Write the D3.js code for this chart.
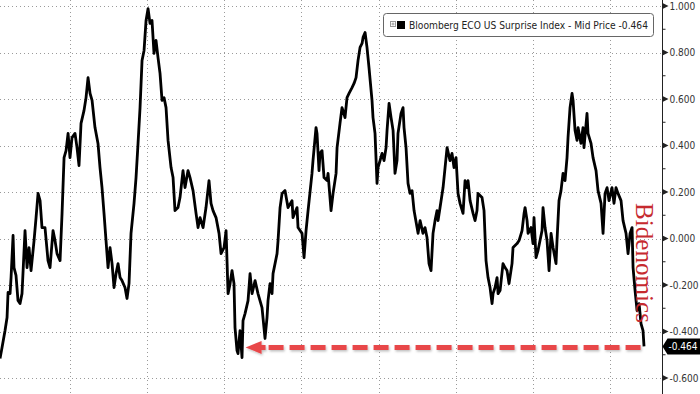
<!DOCTYPE html>
<html><head><meta charset="utf-8">
<script src="https://cdn.jsdelivr.net/npm/d3@7"></script>
<style>html,body{margin:0;padding:0;background:#fff;}svg{display:block;}</style>
</head><body>
<svg id="c" width="700" height="394"></svg>
<script>
const years = [
2015.093,2015.119,2015.158,2015.184,2015.197,2015.223,2015.236,2015.262,2015.274,2015.300,
2015.326,2015.352,2015.378,2015.417,2015.443,2015.469,2015.495,2015.534,2015.560,2015.586,
2015.612,2015.637,2015.676,2015.715,2015.741,2015.780,2015.806,2015.832,2015.871,2015.897,
2015.923,2015.949,2015.975,2016.000,2016.026,2016.065,2016.091,2016.117,2016.143,2016.182,
2016.208,2016.234,2016.260,2016.286,2016.324,2016.363,2016.389,2016.415,2016.441,2016.467,
2016.493,2016.519,2016.545,2016.571,2016.597,2016.623,2016.649,2016.674,2016.713,2016.739,
2016.765,2016.791,2016.830,2016.856,2016.882,2016.908,2016.934,2016.960,2016.986,2017.012,
2017.037,2017.063,2017.089,2017.115,2017.141,2017.167,2017.193,2017.219,2017.245,2017.271,
2017.310,2017.336,2017.361,2017.400,2017.426,2017.465,2017.491,2017.530,2017.556,2017.595,
2017.634,2017.660,2017.686,2017.725,2017.763,2017.802,2017.828,2017.854,2017.893,2017.932,
2017.958,2017.997,2018.023,2018.049,2018.075,2018.100,2018.126,2018.139,2018.165,2018.178,
2018.204,2018.230,2018.243,2018.269,2018.308,2018.334,2018.360,2018.399,2018.437,2018.489,
2018.528,2018.554,2018.567,2018.593,2018.619,2018.632,2018.684,2018.697,2018.723,2018.749,
2018.787,2018.826,2018.878,2018.891,2018.943,2018.956,2019.008,2019.034,2019.060,2019.086,
2019.137,2019.150,2019.189,2019.202,2019.228,2019.241,2019.267,2019.293,2019.332,2019.345,
2019.384,2019.410,2019.449,2019.462,2019.500,2019.526,2019.539,2019.565,2019.591,2019.617,
2019.656,2019.682,2019.708,2019.734,2019.760,2019.786,2019.799,2019.825,2019.850,2019.876,
2019.915,2019.928,2019.954,2019.980,2019.993,2020.019,2020.045,2020.071,2020.097,2020.110,
2020.136,2020.162,2020.188,2020.213,2020.239,2020.252,2020.291,2020.317,2020.330,2020.356,
2020.382,2020.408,2020.434,2020.460,2020.499,2020.512,2020.538,2020.576,2020.602,2020.628,
2020.654,2020.680,2020.706,2020.732,2020.758,2020.771,2020.797,2020.836,2020.862,2020.888,
2020.926,2020.952,2020.978,2021.004,2021.030,2021.056,2021.095,2021.121,2021.147,2021.160,
2021.186,2021.225,2021.251,2021.276,2021.289,2021.341,2021.367,2021.393,2021.419,2021.445,
2021.471,2021.484,2021.510,2021.536,2021.549,2021.575,2021.613,2021.639,2021.665,2021.691,
2021.730,2021.743,2021.795,2021.821,2021.860,2021.886,2021.899,2021.925,2021.938,2021.976,
2022.002,2022.015,2022.041,2022.067,2022.119,2022.132,2022.158,2022.184,2022.210,2022.236,
2022.262,2022.300,2022.313,2022.339,2022.365,2022.391,2022.417,2022.443,2022.456,2022.482,
2022.508,2022.521,2022.547,2022.573,2022.586,2022.624,2022.650,2022.663,2022.702,2022.715,
2022.754,2022.780,2022.819,2022.845,2022.884,2022.910,2022.936,2022.962,2022.987,2023.026,
2023.052,2023.078,2023.104,2023.143,2023.169,2023.208,2023.234,2023.260,2023.286,2023.299,
2023.325,2023.351,2023.377,2023.402,2023.428,2023.441];

const values = [
-0.516,-0.469,-0.396,-0.340,-0.232,-0.237,-0.168,0.013,-0.125,-0.159,
-0.267,-0.280,-0.237,0.034,-0.125,-0.039,-0.138,-0.009,0.090,0.194,
0.163,0.047,0.047,-0.095,-0.125,0.034,-0.009,-0.065,-0.095,0.108,
0.348,0.378,0.452,0.348,0.434,0.452,0.391,0.314,0.495,0.551,
0.606,0.692,0.624,0.594,0.477,0.409,0.305,0.219,0.108,-0.009,
-0.125,-0.039,-0.108,-0.211,-0.151,-0.108,-0.168,-0.181,-0.211,-0.258,
-0.194,0.022,0.151,0.262,0.409,0.563,0.766,0.809,0.938,0.989,
0.925,0.938,0.796,0.852,0.778,0.710,0.594,0.606,0.563,0.422,
0.305,0.262,0.120,0.133,0.176,0.292,0.219,0.292,0.262,0.206,
0.108,0.047,0.090,0.047,0.133,0.249,0.151,0.120,0.090,0.022,
-0.065,-0.039,0.034,-0.237,-0.194,-0.138,-0.194,-0.383,-0.482,-0.495,
-0.396,-0.512,-0.353,-0.323,-0.267,-0.151,-0.237,-0.181,-0.237,-0.297,
-0.430,-0.340,-0.267,-0.194,-0.237,-0.151,-0.065,-0.009,0.133,0.194,
0.206,0.133,0.163,0.090,0.133,0.047,0.022,-0.082,0.034,0.120,
0.280,0.335,0.477,0.452,0.292,0.366,0.378,0.262,0.249,0.280,
0.120,0.194,0.280,0.391,0.495,0.563,0.551,0.520,0.606,0.624,
0.649,0.667,0.692,0.766,0.822,0.839,0.865,0.886,0.822,0.735,
0.594,0.520,0.452,0.237,0.305,0.335,0.366,0.335,0.391,0.465,
0.581,0.520,0.465,0.280,0.335,0.452,0.538,0.563,0.477,0.391,
0.237,0.194,0.206,0.120,0.047,0.022,0.077,0.022,0.047,0.004,
-0.108,-0.138,0.022,0.077,0.120,0.077,0.133,0.219,0.305,0.391,
0.335,0.366,0.305,0.348,0.194,0.151,0.108,0.249,0.219,0.249,
0.163,0.108,0.077,0.120,0.194,0.176,0.120,-0.095,-0.168,-0.211,
-0.280,-0.237,-0.211,-0.168,-0.237,-0.224,-0.108,-0.125,-0.138,-0.194,
-0.108,-0.039,-0.022,-0.009,0.034,0.108,0.133,0.077,0.022,0.047,
-0.022,0.090,-0.082,-0.052,0.034,0.133,0.047,-0.009,-0.138,0.022,
-0.039,-0.108,-0.009,0.163,0.206,0.280,0.249,0.348,0.434,0.563,
0.624,0.594,0.465,0.422,0.477,0.409,0.477,0.391,0.538,0.452,
0.409,0.348,0.292,0.206,0.151,0.022,0.194,0.219,0.163,0.219,
0.151,0.219,0.194,0.163,0.077,0.022,-0.065,0.022,0.047,-0.125,
-0.224,-0.310,-0.280,-0.366,-0.396,-0.464];

const yTicks = [-0.6,-0.4,-0.2,0,0.2,0.4,0.6,0.8,1.0];
const yMinor = [-0.5,-0.3,-0.1,0.1,0.3,0.5,0.7,0.9];
const gridYears = [2016,2017,2018,2019,2020,2021,2022,2023];
const seriesName = "Bloomberg ECO US Surprise Index - Mid Price";
const lastValue = -0.464;
const annotation = "Bidenomics";
const arrowFrom = 2023.43, arrowTo = 2018.25;

const W = 700, H = 394, axisX = 662.5;
const svg = d3.select("#c");
const x = d3.scaleLinear().domain([2016, 2023]).range([70, 610]);
const y = d3.scaleLinear().domain([-0.6, 1.0]).range([378, 6]);
const fmt = v => d3.format(".3f")(v).replace("\u2212", "-");
const uiFont = "DejaVu Sans Condensed, DejaVu Sans, sans-serif";

const defs = svg.append("defs");
const f = defs.append("filter").attr("id","sh").attr("x","-10%").attr("y","-50%").attr("width","120%").attr("height","200%");
f.append("feDropShadow").attr("dx",1).attr("dy",1.5).attr("stdDeviation",1).attr("flood-color","#000").attr("flood-opacity",0.25);

// grid
const grid = svg.append("g").attr("stroke","#9a9a9a").attr("stroke-width",1).attr("stroke-dasharray","1,3");
grid.selectAll("line.h").data(yTicks).join("line").attr("class","h")
  .attr("x1",0).attr("x2",axisX).attr("y1",d=>Math.round(y(d))+0.5).attr("y2",d=>Math.round(y(d))+0.5);
grid.selectAll("line.v").data(gridYears).join("line").attr("class","v")
  .attr("x1",d=>Math.round(x(d))+0.5).attr("x2",d=>Math.round(x(d))+0.5).attr("y1",0).attr("y2",H);

// axis
const ax = svg.append("g").attr("transform",`translate(${axisX},0)`)
  .call(d3.axisRight(y).tickValues(yTicks).tickSize(0).tickPadding(7).tickFormat(fmt));
ax.select(".domain").remove();
ax.selectAll("text").attr("font-family",uiFont).attr("font-size","10px").attr("fill","#333");
svg.append("line").attr("x1",axisX).attr("x2",axisX).attr("y1",0).attr("y2",H).attr("stroke","#222").attr("stroke-width",1);
svg.append("g").selectAll("path").data(yTicks).join("path")
  .attr("d",d=>`M${axisX},${y(d)-3}L${axisX+6},${y(d)}L${axisX},${y(d)+3}Z`).attr("fill","#222");
svg.append("g").selectAll("line").data(yMinor).join("line")
  .attr("x1",axisX).attr("x2",axisX+3).attr("y1",d=>y(d)).attr("y2",d=>y(d)).attr("stroke","#222");

// series
const data = years.map((t,i)=>({t, v: values[i]}));
svg.append("path").datum(data)
  .attr("d", d3.line().x(d=>x(d.t)).y(d=>y(d.v)))
  .attr("fill","none").attr("stroke","#000").attr("stroke-width",2.8).attr("stroke-linejoin","round");

// red dashed arrow
const ay = y(lastValue) + 1;
const ag = svg.append("g").attr("filter","url(#sh)");
ag.append("line").attr("x1",x(arrowTo)+25).attr("x2",x(arrowFrom)).attr("y1",ay).attr("y2",ay)
  .attr("stroke","#e8474a").attr("stroke-width",5).attr("stroke-dasharray","15,6");
ag.append("path").attr("d",`M${x(arrowTo)+2},${ay}L${x(arrowTo)+18},${ay-6.5}L${x(arrowTo)+18},${ay-2.5}L${x(arrowTo)+22},${ay-2.5}L${x(arrowTo)+22},${ay+2.5}L${x(arrowTo)+18},${ay+2.5}L${x(arrowTo)+18},${ay+6.5}Z`)
  .attr("fill","#e8474a");

// annotation
svg.append("text").attr("transform","translate(636,203) rotate(90)")
  .attr("font-family","Liberation Serif, Times New Roman, serif").attr("font-size","25px")
  .attr("fill","#c62a2f").attr("textLength",120).attr("lengthAdjust","spacingAndGlyphs").text(annotation);

// last value label
const ly = y(lastValue);
svg.append("path").attr("d",`M${axisX},${ly}L${axisX+5},${ly-8}H700V${ly+8}H${axisX+5}Z`).attr("fill","#000");
svg.append("text").attr("x",axisX+6).attr("y",ly+4).attr("font-family",uiFont)
  .attr("font-size","10px").attr("fill","#fff").text(fmt(lastValue));

// legend
const lg = svg.append("g");
lg.append("rect").attr("x",383.5).attr("y",13.5).attr("width",270).attr("height",23).attr("rx",3)
  .attr("fill","#fff").attr("stroke","#666");
lg.append("rect").attr("x",390.5).attr("y",21.5).attr("width",5).attr("height",5).attr("fill","#fff").attr("stroke","#999");
lg.append("path").attr("d","M391.5,24H394.5M393,22.5V25.5").attr("stroke","#999");
lg.append("rect").attr("x",397).attr("y",21).attr("width",8).attr("height",8).attr("fill","#000");
lg.append("text").attr("x",409).attr("y",29).attr("font-family",uiFont)
  .attr("font-size","10px").attr("fill","#222").attr("textLength",239).attr("lengthAdjust","spacingAndGlyphs")
  .text(`${seriesName} ${fmt(lastValue)}`);
</script>
</body></html>
